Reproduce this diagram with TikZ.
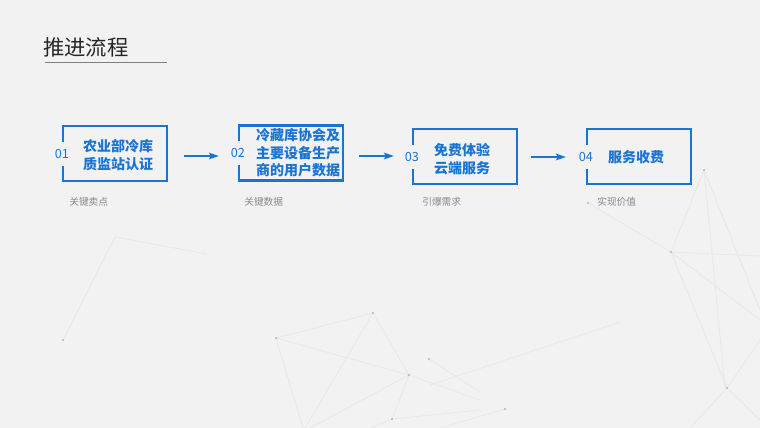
\documentclass[tikz,border=0pt]{standalone}
\usepackage{fontspec}
\newfontfamily\cjk{Noto Sans CJK SC}
\usetikzlibrary{arrows.meta,calc}

\definecolor{bgc}{HTML}{F2F2F2}
\definecolor{stepblue}{HTML}{1A74D2}
\definecolor{capgray}{HTML}{8A8A8A}
\definecolor{titlec}{HTML}{262626}
\definecolor{netline}{HTML}{E8E8EB}
\definecolor{netdot}{HTML}{B4B4BE}

\begin{document}
\begin{tikzpicture}[x=0.75pt,y=-0.75pt]

\tikzstyle{stepbox} = [rectangle, draw=stepblue, line width=1.6pt, minimum width=78pt, minimum height=41.25pt, inner sep=0pt]
\tikzstyle{steptext} = [font=\cjk\bfseries\fontsize{10.5}{13}\selectfont, text=stepblue, align=center, inner sep=0pt]
\tikzstyle{stepnum} = [font=\cjk\fontsize{9.5}{11}\selectfont, text=stepblue, fill=bgc, inner xsep=1.5pt, minimum height=18pt]
\tikzstyle{caption} = [font=\cjk\fontsize{7.3}{9}\selectfont, text=capgray, anchor=west, inner sep=0pt]
\tikzstyle{flow} = [stepblue, line width=1.2pt, -{Stealth[length=7.5pt,width=5pt,inset=1.5pt]}]

%Background
\fill[bgc] (0,0) rectangle (760,428);
\useasboundingbox (0,0) rectangle (760,428);

%Faint network lines
\foreach \xa/\ya/\xb/\yb in {115/237/63/340, 115/237/207/254,
  276/338/373/313, 276/338/409/375, 373/313/409/375, 276/338/303/428, 373/313/305/428,
  409/375/310/428, 409/375/392/419, 409/375/480/400, 429/359/480/392, 392/419/480/410, 392/419/370/428,
  588/203/671/252, 671/252/704/170, 704/170/760/310, 671/252/727/388, 671/252/760/256,
  671/252/760/320, 704/170/725/388, 727/388/760/340, 727/388/690/428, 727/388/760/420,
  505/409/440/428, 430/385/620/322}
  \draw[netline, line width=0.6pt] (\xa,\ya) -- (\xb,\yb);
\foreach \px/\py in {63/340, 276/338, 373/313, 409/375, 429/359, 392/419, 704/170, 671/252, 727/388, 505/409, 588/203}
  \fill[netdot] (\px,\py) circle (1.1);

%Title
\node[font=\cjk\fontsize{16}{18}\selectfont, text=titlec, anchor=west, inner sep=0pt] (title) at (43,47) {推进流程};
\draw[gray, line width=0.75pt] (45,63) -- (167,63);

%Step 1
\node[stepbox] (b1) at (115,153.5) {};
\node[steptext] (t1) at (118,155) {农业部冷库\\质监站认证};
\node[stepnum] (n1) at (b1.west) {01};
\node[caption] (c1) at (69,202) {关键卖点};

%Step 2
\node[stepbox] (b2) at (291,153) {};
\node[steptext] (t2) at (298,153) {冷藏库协会及\\主要设备生产\\商的用户数据};
\node[stepnum] (n2) at (b2.west) {02};
\node[caption] (c2) at (244,202) {关键数据};

%Step 3
\node[stepbox] (b3) at (465,156.5) {};
\node[steptext] (t3) at (462,159) {免费体验\\云端服务};
\node[stepnum] (n3) at (b3.west) {03};
\node[caption] (c3) at (422,202) {引爆需求};

%Step 4
\node[stepbox] (b4) at (639,156.5) {};
\node[steptext] (t4) at (636,157) {服务收费};
\node[stepnum] (n4) at (b4.west) {04};
\node[caption] (c4) at (597,202) {实现价值};

%Arrows between steps
\draw[flow] ($(b1.east)+(16,2.5)$) -- ($(b2.west)+(-19,3)$);
\draw[flow] ($(b2.east)+(15,3)$) -- ($(b3.west)+(-18,-0.5)$);
\draw[flow] ($(b3.east)+(13,0.5)$) -- ($(b4.west)+(-20,0.5)$);

\end{tikzpicture}
\end{document}
